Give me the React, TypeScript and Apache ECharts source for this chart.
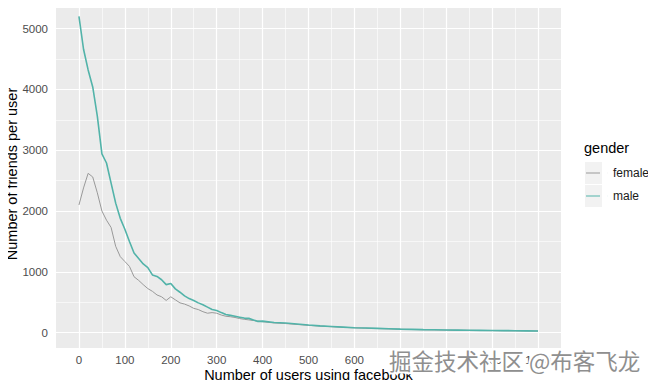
import React, { useEffect, useRef } from "react";
import * as echarts from "echarts";

// x positions (number of users)
const xValues = [
  0, 10, 20, 30, 40, 50, 60, 70, 80, 90, 100, 110, 120, 130, 140, 150, 160, 170, 180, 190,
  200, 210, 220, 230, 240, 250, 260, 270, 280, 290, 300, 310, 320, 330, 340, 350, 360, 370, 380, 390,
  400, 425, 450, 475, 500, 525, 550, 575, 600, 625, 650, 675, 700, 725, 750, 775, 800, 825, 850,
  875, 900, 925, 950, 975, 1000,
];

const maleValues = [
  5200, 4660, 4320, 4040, 3560, 2940, 2790, 2460, 2130, 1880, 1700, 1500, 1310, 1220, 1130, 1070, 950, 925, 870, 790,
  810, 720, 665, 605, 560, 530, 490, 460, 420, 380, 365, 330, 300, 285, 270, 255, 240, 235, 210, 185,
  190, 168, 158, 142, 125, 112, 102, 92, 82, 76, 70, 64, 58, 54, 50, 47, 44, 42, 40,
  38, 36, 34, 32, 30, 28,
];

const femaleValues = [
  2100, 2380, 2620, 2560, 2300, 2000, 1850, 1730, 1420, 1250, 1170, 1090, 920, 860, 790, 725, 680, 620, 590, 530,
  590, 540, 490, 470, 440, 400, 380, 345, 320, 330, 320, 290, 270, 262, 250, 232, 220, 210, 200, 190,
  180, 160, 150, 135, 120, 108, 98, 88, 80, 74, 68, 62, 56, 52, 48, 45, 42, 40, 38,
  36, 34, 32, 30, 29, 27,
];

const xMajor = [0, 100, 200, 300, 400, 500, 600, 700, 800, 900, 1000];
const xMinor = [50, 150, 250, 350, 450, 550, 650, 750, 850, 950];
const yMajor = [0, 1000, 2000, 3000, 4000, 5000];
const yMinor = [500, 1500, 2500, 3500, 4500];

const FONT = "Liberation Sans, Arial, sans-serif";

export default function App() {
  const ref = useRef<HTMLDivElement>(null);

  useEffect(() => {
    if (!ref.current) return;
    const chart = echarts.init(ref.current, undefined, { renderer: "svg" });

    const gridLines = [
      ...xMinor.map((v) => ({ xAxis: v, lineStyle: { width: 0.6 } })),
      ...yMinor.map((v) => ({ yAxis: v, lineStyle: { width: 0.6 } })),
      ...xMajor.map((v) => ({ xAxis: v, lineStyle: { width: 1.2 } })),
      ...yMajor.map((v) => ({ yAxis: v, lineStyle: { width: 1.2 } })),
    ];

    const legendCommon = {
      orient: "vertical",
      left: 586,
      padding: 0,
      itemWidth: 22,
      selectedMode: false,
      textStyle: { fontFamily: FONT, fontSize: 12, color: "#1a1a1a" },
    };

    chart.setOption({
      animation: false,
      backgroundColor: "#ffffff",
      grid: {
        left: 56,
        right: 95,
        top: 0,
        bottom: 40,
        show: true,
        backgroundColor: "#EBEBEB",
        borderWidth: 0,
        containLabel: false,
        outerBoundsMode: "none",
      },
      xAxis: {
        type: "value",
        min: -50,
        max: 1050,
        name: "Number of users using facebook",
        nameLocation: "middle",
        nameGap: 19,
        nameMoveOverlap: false,
        nameTextStyle: { fontFamily: FONT, fontSize: 14.5, color: "#000000" },
        axisLine: { show: false },
        splitLine: { show: false },
        axisTick: {
          show: true,
          length: 4,
          customValues: xMajor,
          lineStyle: { color: "#333333", width: 1 },
        },
        axisLabel: {
          customValues: xMajor,
          margin: 6,
          formatter: (v: number) => String(v),
          fontFamily: FONT,
          fontSize: 11.5,
          color: "#4D4D4D",
        },
      },
      yAxis: {
        type: "value",
        min: -252,
        max: 5470,
        name: "Number of friends per user",
        nameLocation: "middle",
        nameGap: 37,
        nameMoveOverlap: false,
        nameTextStyle: { fontFamily: FONT, fontSize: 14.5, color: "#000000" },
        axisLine: { show: false },
        splitLine: { show: false },
        axisTick: {
          show: true,
          length: 4,
          customValues: yMajor,
          lineStyle: { color: "#333333", width: 1 },
        },
        axisLabel: {
          customValues: yMajor,
          margin: 8,
          formatter: (v: number) => String(v),
          fontFamily: FONT,
          fontSize: 11.5,
          color: "#4D4D4D",
        },
      },
      legend: [
        {
          ...legendCommon,
          top: 167,
          itemHeight: 1.2,
          icon: "path://M0,0H14V1H0Z M21.9,0H22V1H21.9Z",
          data: ["female"],
        },
        {
          ...legendCommon,
          top: 190,
          itemHeight: 2,
          icon: "path://M0,0H14V1H0Z M21.9,0H22V1H21.9Z",
          data: ["male"],
        },
      ],
      graphic: [
        { type: "rect", z: 0, shape: { x: 585, y: 162, width: 17, height: 22 }, style: { fill: "#F2F2F2" }, silent: true },
        { type: "rect", z: 0, shape: { x: 585, y: 185, width: 17, height: 22 }, style: { fill: "#F2F2F2" }, silent: true },
        {
          type: "text",
          x: 584,
          y: 140,
          style: { text: "gender", fontFamily: FONT, fontSize: 14.5, fill: "#000000", textVerticalAlign: "top" },
          silent: true,
        },
        {
          type: "text",
          x: 389,
          y: 349,
          z: 100,
          style: {
            text: "掘金技术社区 @布客飞龙",
            fontFamily: "Noto Sans CJK SC",
            fontSize: 22.5,
            fill: "#8f8f8f",
            stroke: "#ffffff",
            lineWidth: 4,
            shadowColor: "#333333",
            shadowOffsetX: 1,
            shadowOffsetY: 1,
            shadowBlur: 0,
            textVerticalAlign: "top",
          },
          silent: true,
        },
      ],
      series: [
        {
          name: "female",
          type: "line",
          data: xValues.map((x, i) => [x, femaleValues[i]]),
          symbol: "none",
          color: "#999999",
          lineStyle: { width: 1, color: "#999999" },
          z: 3,
          markLine: {
            silent: true,
            z: 1,
            symbol: ["none", "none"],
            label: { show: false },
            lineStyle: { color: "#ffffff", type: "solid" },
            emphasis: { disabled: true },
            data: gridLines,
          },
        },
        {
          name: "male",
          type: "line",
          data: xValues.map((x, i) => [x, maleValues[i]]),
          symbol: "none",
          color: "#52B3A9",
          lineStyle: { width: 1.6, color: "#52B3A9" },
          z: 4,
        },
      ],
    });

    return () => chart.dispose();
  }, []);

  return <div ref={ref} style={{ width: 656, height: 388, margin: -8 }} />;
}
